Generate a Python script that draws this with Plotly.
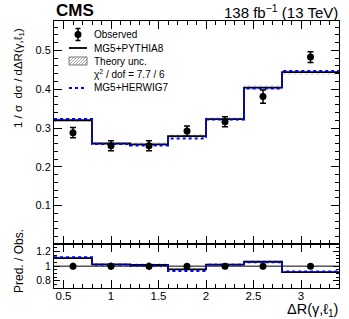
import plotly.graph_objects as go

# ---------------- data ----------------
bin_edges = [0.4, 0.8, 1.2, 1.6, 2.0, 2.4, 2.8, 3.4]
bin_centers = [0.6, 1.0, 1.4, 1.8, 2.2, 2.6, 3.1]
observed = [0.288, 0.254, 0.254, 0.292, 0.316, 0.381, 0.483]
observed_err = [0.013, 0.013, 0.013, 0.013, 0.013, 0.017, 0.014]
pythia8 = [0.320, 0.260, 0.258, 0.279, 0.323, 0.404, 0.444]
herwig7 = [0.323, 0.259, 0.255, 0.273, 0.322, 0.402, 0.447]
theory_unc = [0.005, 0.005, 0.005, 0.005, 0.005, 0.006, 0.006]
y_ticks = [0.1, 0.2, 0.3, 0.4, 0.5]
x_ticks = [0.5, 1, 1.5, 2, 2.5, 3]
ratio_ticks = [0.8, 1.0, 1.2]
ratio_ticktext = ["0.8", "1", "1.2"]

FONT = "Liberation Sans, Arial, Helvetica, sans-serif"
W, H = 349, 319
L, R, T, B = 54, 10, 21, 31


def px(x):
    return (x - L) / (W - L - R)


def py(y):
    return (H - B - y) / (H - T - B)


widths = [bin_edges[i + 1] - bin_edges[i] for i in range(len(bin_centers))]
ratio_p = [p / o for p, o in zip(pythia8, observed)]
ratio_h = [h / o for h, o in zip(herwig7, observed)]
ratio_err = [e / o for e, o in zip(observed_err, observed)]

BLUE = "#0000ff"

fig = go.Figure()

# theory band (main)
fig.add_trace(go.Bar(
    x=bin_centers, width=widths,
    base=[p - u for p, u in zip(pythia8, theory_unc)],
    y=[2 * u for u in theory_unc],
    marker=dict(color="rgba(0,0,0,0)", line=dict(width=0),
                pattern=dict(shape="/", fgcolor="#999999", bgcolor="rgba(0,0,0,0)", size=4, solidity=0.3)),
    xaxis="x", yaxis="y", showlegend=False, hoverinfo="skip"))

# theory band (ratio)
fig.add_trace(go.Bar(
    x=bin_centers, width=widths,
    base=[(p - u) / o for p, u, o in zip(pythia8, theory_unc, observed)],
    y=[2 * u / o for u, o in zip(theory_unc, observed)],
    marker=dict(color="rgba(0,0,0,0)", line=dict(width=0),
                pattern=dict(shape="/", fgcolor="#999999", bgcolor="rgba(0,0,0,0)", size=4, solidity=0.3)),
    xaxis="x2", yaxis="y2", showlegend=False, hoverinfo="skip"))

# main steps
fig.add_trace(go.Scatter(x=bin_edges, y=pythia8 + [pythia8[-1]], mode="lines",
                         line=dict(shape="hv", color="black", width=1.8),
                         xaxis="x", yaxis="y", showlegend=False))
fig.add_trace(go.Scatter(x=bin_edges, y=herwig7 + [herwig7[-1]], mode="lines",
                         line=dict(shape="hv", color=BLUE, width=2, dash="dot"),
                         xaxis="x", yaxis="y", showlegend=False))
fig.add_trace(go.Scatter(x=bin_centers, y=observed, mode="markers",
                         marker=dict(color="black", size=7),
                         error_y=dict(type="data", array=observed_err, color="black", thickness=1.5, width=3),
                         xaxis="x", yaxis="y", showlegend=False))

# ratio steps
fig.add_trace(go.Scatter(x=bin_edges, y=ratio_p + [ratio_p[-1]], mode="lines",
                         line=dict(shape="hv", color="black", width=1.8),
                         xaxis="x2", yaxis="y2", showlegend=False))
fig.add_trace(go.Scatter(x=bin_edges, y=ratio_h + [ratio_h[-1]], mode="lines",
                         line=dict(shape="hv", color=BLUE, width=2, dash="dot"),
                         xaxis="x2", yaxis="y2", showlegend=False))
fig.add_trace(go.Scatter(x=bin_centers, y=[1.0] * len(bin_centers), mode="markers",
                         marker=dict(color="black", size=7),
                         error_y=dict(type="data", array=ratio_err, color="black", thickness=1.5, width=0),
                         xaxis="x2", yaxis="y2", showlegend=False))

ratio_split = py(244.3)

axis_common = dict(showline=True, linecolor="black", linewidth=1, mirror="allticks",
                   ticks="inside", tickcolor="black", ticklen=8, tickwidth=1,
                   showgrid=False, zeroline=False,
                   tickfont=dict(family=FONT, size=11, color="black"))

shapes = [
    dict(type="line", xref="x2", yref="y2", x0=bin_edges[0], x1=bin_edges[-1], y0=1, y1=1,
         line=dict(color="black", width=1), layer="below"),
]

# ---------- manual legend ----------
lx0, lx1 = 69, 87
# Observed marker
shapes.append(dict(type="line", xref="paper", yref="paper", x0=px(78), x1=px(78), y0=py(28.5), y1=py(40.5),
                   line=dict(color="black", width=1.5)))
for yy in (28.5, 40.5):
    shapes.append(dict(type="line", xref="paper", yref="paper", x0=px(75.5), x1=px(80.5), y0=py(yy), y1=py(yy),
                       line=dict(color="black", width=1.5)))
shapes.append(dict(type="circle", xref="paper", yref="paper", xsizemode="pixel", ysizemode="pixel",
                   xanchor=px(78), yanchor=py(34.5), x0=-3.5, x1=3.5, y0=-3.5, y1=3.5,
                   fillcolor="black", line=dict(color="black", width=0)))
# PYTHIA8 line
shapes.append(dict(type="line", xref="paper", yref="paper", x0=px(lx0), x1=px(lx1), y0=py(48), y1=py(48),
                   line=dict(color="black", width=1.8)))
# Theory unc box
bt, bb = 57, 65
shapes.append(dict(type="rect", xref="paper", yref="paper", x0=px(lx0), x1=px(lx1), y0=py(bb), y1=py(bt),
                   line=dict(color="#777777", width=1)))
hgt = bb - bt
c = lx0 - hgt + 2
while c < lx1:
    xs, ys = c, bb
    if xs < lx0:
        ys = bb - (lx0 - c)
        xs = lx0
    xe, ye = c + hgt, bt
    if xe > lx1:
        ye = bb - (lx1 - c)
        xe = lx1
    shapes.append(dict(type="line", xref="paper", yref="paper", x0=px(xs), x1=px(xe), y0=py(ys), y1=py(ye),
                       line=dict(color="#888888", width=0.8)))
    c += 3
# HERWIG7 line
shapes.append(dict(type="line", xref="paper", yref="paper", x0=px(lx0), x1=px(lx1), y0=py(88), y1=py(88),
                   line=dict(color=BLUE, width=2, dash="dot")))

annotations = []
leg_items = [("Observed", 34), ("MG5+PYTHIA8", 48), ("Theory unc.", 61),
             ("χ<sup>2</sup> / dof = 7.7 / 6", 74), ("MG5+HERWIG7", 88)]
for txt, yy in leg_items:
    annotations.append(dict(text=txt, xref="paper", yref="paper", x=px(91.5), y=py(yy),
                            xanchor="left", yanchor="middle", showarrow=False,
                            font=dict(family=FONT, size=10, color="black")))

annotations += [
    dict(text="<b>CMS</b>", xref="paper", yref="paper", x=px(54), y=py(11), xanchor="left", yanchor="middle",
         showarrow=False, font=dict(family=FONT, size=17, color="black")),
    dict(text="138 fb<sup>−1</sup> (13 TeV)", xref="paper", yref="paper", x=px(340), y=py(12),
         xanchor="right", yanchor="middle", showarrow=False, font=dict(family=FONT, size=15, color="black")),
    dict(text="1 / σ  dσ / dΔR(γ,ℓ<sub>1</sub>)", xref="paper", yref="paper", x=px(19), y=py(78),
         xanchor="center", yanchor="middle", textangle=-90, showarrow=False,
         font=dict(family=FONT, size=11.5, color="black")),
    dict(text="Pred. / Obs.", xref="paper", yref="paper", x=px(19), y=py(261),
         xanchor="center", yanchor="middle", textangle=-90, showarrow=False,
         font=dict(family=FONT, size=12, color="black")),
    dict(text="ΔR(γ,ℓ<sub>1</sub>)", xref="paper", yref="paper", x=px(340), y=py(310),
         xanchor="right", yanchor="middle", showarrow=False,
         font=dict(family=FONT, size=14.5, color="black")),
]

fig.update_layout(
    width=W, height=H,
    margin=dict(l=L, r=R, t=T, b=B, pad=0),
    paper_bgcolor="white", plot_bgcolor="white",
    barmode="overlay", bargap=0,
    showlegend=False,
    font=dict(family=FONT, color="black"),
    xaxis=dict(axis_common, domain=[0, 1], anchor="y", range=[bin_edges[0], bin_edges[-1]],
               tickvals=x_ticks, showticklabels=False, matches="x2",
               minor=dict(ticks="inside", ticklen=4, dtick=0.1, tick0=0, tickcolor="black")),
    yaxis=dict(axis_common, domain=[ratio_split, 1], anchor="x", range=[0, 0.576],
               tickvals=y_ticks,
               minor=dict(ticks="inside", ticklen=4, dtick=0.02, tick0=0, tickcolor="black")),
    xaxis2=dict(axis_common, domain=[0, 1], anchor="y2", range=[bin_edges[0], bin_edges[-1]],
                tickvals=x_ticks, tickfont=dict(family=FONT, size=11.5, color="black"),
                ticklabelstandoff=-3,
                minor=dict(ticks="inside", ticklen=4, dtick=0.1, tick0=0, tickcolor="black")),
    yaxis2=dict(axis_common, domain=[0, ratio_split], anchor="x2", range=[0.7, 1.3],
                tickvals=ratio_ticks, ticktext=ratio_ticktext, ticklen=6,
                tickfont=dict(family=FONT, size=10.5, color="black"),
                minor=dict(ticks="inside", ticklen=3, dtick=0.05, tick0=0, tickcolor="black")),
    shapes=shapes,
    annotations=annotations,
)

fig.write_html("out.html", config={"displayModeBar": False},
               post_script="document.body.style.margin='0';document.body.style.padding='0';")
